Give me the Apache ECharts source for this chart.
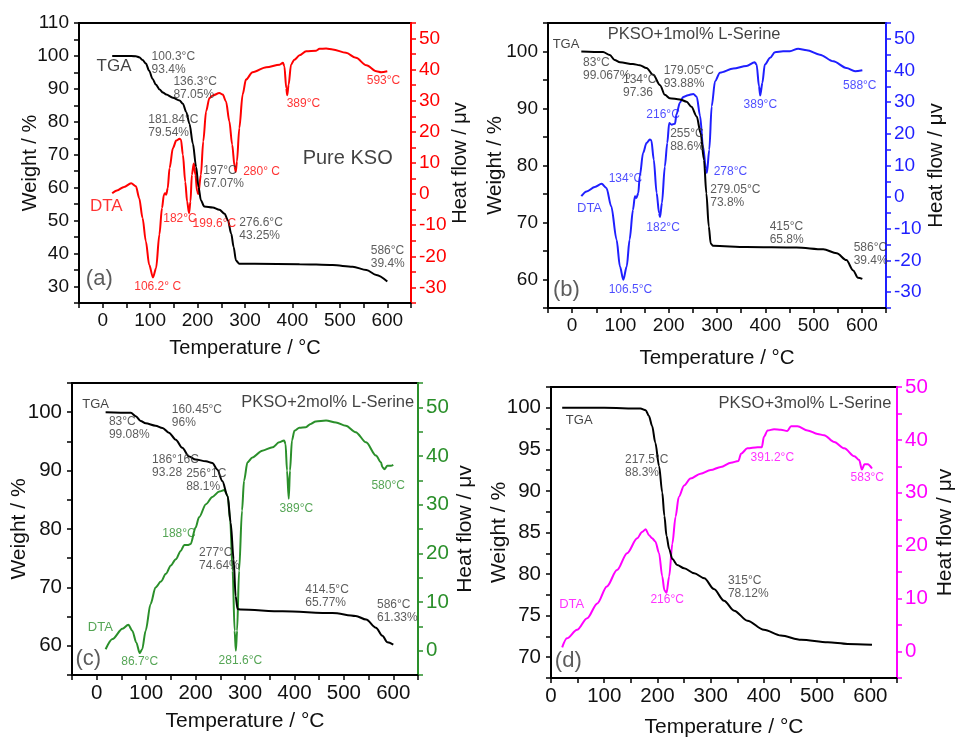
<!DOCTYPE html>
<html>
<head>
<meta charset="utf-8">
<title>TGA / DTA</title>
<script src="https://cdn.jsdelivr.net/npm/echarts@6/dist/echarts.min.js"></script>
<style>
  html, body { margin: 0; padding: 0; background: #fff; }
  #main { width: 960px; height: 739px; }
</style>
</head>
<body>
<div id="main"></div>
<script>
// (a) Pure KSO  -- [temperature, value]
const tgaA = [[20,100],[50,100],[70,99.9],[77,99.6],[84,98.8],[91,97.7],[98,95.5],[105,93.1],[112,91.3],[120,89.8],[127,88.9],[134,88.3],[148,87.3],[162,86.5],[169,85.5],[176,83],[183,79.4],[190,73.4],[197,66.3],[202,60.2],[207,56.2],[214,54.3],[232,54],[246,53.3],[257,52.1],[264,50.1],[271,46],[276,42],[281,37.9],[288,36.9],[320,36.9],[415,36.8],[485,36.5],[527,36],[556,35],[577,33.5],[600,31.5]];
const dtaA = [[20,0.3],[30,1.2],[45,2.3],[60,3.5],[70,2.5],[77,-1.3],[84,-7.7],[91,-15.2],[98,-22.7],[106,-26.8],[112.5,-23.8],[119.5,-13],[125,-4.5],[129,-0.2],[131.5,0.3],[134,-0.2],[137,1.9],[141,8.4],[148,14.8],[155,17.2],[162,17.8],[165,17.5],[169,12.7],[174,4],[178,-2.4],[182,-6.1],[185,-2.4],[188,6.2],[192,9.8],[195.5,6.2],[199,0.9],[201.5,0],[207,6.2],[212,17],[218,26.6],[225,30.9],[232,31.7],[246,32.5],[253,32],[260,29.8],[267,23.4],[273,15.9],[278,8.9],[280.5,7.1],[283,10.5],[288,21.2],[295,32],[302,36.8],[316,39.2],[345,40.8],[373,41.6],[380,42.2],[383,41.1],[387,34.1],[389,31.8],[392,35.2],[397,41.6],[404,43.2],[415,44.6],[429,45.9],[450,46.1],[457,46.7],[471,46.8],[485,46.5],[513,45.4],[534,43.8],[556,41.4],[577,39.5],[587,39.2],[600,39.5]];

// (b) PKSO + 1 mol% L-Serine
const tgaB = [[19,100],[64,99.9],[78,99.4],[88,98.5],[99,98.1],[126,97.8],[140,97.6],[154,97.1],[168,95.9],[182,94.1],[192,92.4],[202,91.8],[223,91.6],[237,91.2],[247,90.3],[258,88.6],[266,85.7],[273,81],[278,75.1],[283,69.3],[287,66.3],[292,65.9],[361,65.7],[465,65.6],[520,65.3],[548,64.6],[568,63.4],[582,61.6],[592,60.3],[601,60.1]];
const dtaB = [[19,0.3],[30,1.8],[47,3.2],[61,4.2],[71,2.9],[81,-2.9],[92,-13.4],[99,-21.9],[106,-26.1],[113,-21.9],[119,-13.4],[126,-4],[130,0.3],[133,-0.3],[137,1.3],[140,6.6],[147,14],[154,17.1],[161,18.2],[164,18],[169,11.9],[175,1.3],[180,-5],[182,-6.3],[186,-1.8],[192,9.7],[197,17.1],[201,23.4],[206,22.9],[213,23.2],[216,26.1],[223,29.8],[230,31.6],[240,32.2],[251,32.6],[258,31.7],[265,25.6],[271,16.1],[277,9.2],[279,7.6],[284,15],[289,28.7],[296,36.6],[306,39.3],[334,40.6],[361,41.4],[378,42.6],[382,41.9],[387,35],[389.5,32.1],[394,36.1],[399,41.9],[410,44],[420,45.8],[437,46.1],[451,46.1],[468,46.9],[486,46.4],[513,45],[541,42.9],[568,40.8],[586,39.8],[601,40.1]];

// (c) PKSO + 2 mol% L-Serine
const tgaC = [[18,100],[69,99.9],[79,99.3],[89,98.5],[99,98.1],[119,97.7],[133,97.3],[146,96.5],[160,95.3],[173,93.9],[187,92.4],[200,91.9],[221,91.6],[234,91.3],[244,90.2],[254,88.2],[265,85.6],[271,81.1],[277,74.8],[281,68.5],[285,66.3],[291,66.2],[376,65.9],[477,65.6],[524,65.1],[545,64.5],[565,63.1],[578,61.7],[588,60.6],[600,60.2]];
const dtaC = [[18,0.3],[32,2.4],[52,4.5],[64,5.3],[72,4.1],[80,1.7],[87,-0.5],[92,0.3],[99,4.1],[109,9.6],[119,13],[130,14.2],[140,15.8],[150,17.5],[160,18.8],[170,20.5],[177,21.7],[184,21.7],[190,21.9],[200,25.3],[207,27.4],[221,30.1],[234,31.6],[248,32.7],[258,33],[265,31.8],[270,26.7],[275,16.4],[279,4.1],[281.5,0],[284,4.1],[288,16.4],[294,28.8],[298,34.9],[305,38.7],[315,39.7],[335,41.1],[356,41.8],[369,42.8],[379,43.2],[382,42.5],[385,37],[388.5,31.2],[391,37],[395,43.2],[400,45.2],[410,45.8],[423,45.9],[433,46.6],[443,47.1],[464,47.3],[484,46.9],[504,46.2],[524,44.9],[545,42.8],[565,40.1],[575,38.7],[578,37.7],[582,37.3],[588,38],[595,38],[600,38.2]];

// (d) PKSO + 3 mol% L-Serine
const tgaD = [[21,100],[100,100],[168,99.9],[178,99.7],[184,99],[190,97.8],[196,95.8],[203,93],[209,89.8],[213,87],[217,84.6],[222,83],[228,81.8],[237,81.1],[250,80.7],[269,80.1],[288,79.5],[306,78.2],[325,76.8],[344,75.6],[369,74.4],[400,73.3],[432,72.6],[470,72.1],[520,71.8],[557,71.6],[603,71.5]];
const dtaD = [[21,0.8],[30,2.5],[49,4.1],[68,6.3],[87,9.1],[105,12.3],[124,15.4],[143,18.6],[162,21.4],[171,22.6],[178,23.1],[184,22],[190,21.4],[196,20.8],[203,18.6],[209,14.2],[213,11.6],[217,11.1],[222,14.2],[228,20.4],[234,25.5],[240,29.2],[250,31.4],[262,32.7],[281,33.6],[300,34.3],[319,34.9],[338,35.7],[352,36],[357,37.4],[369,38.4],[388,38.6],[396,38.6],[400,40.6],[407,41.8],[419,42],[432,41.9],[444,41.7],[451,42.6],[463,42.6],[482,41.8],[501,41.1],[513,40.9],[532,39.6],[551,38.4],[570,36.9],[579,36.2],[584,34.4],[589,35.4],[595,35.4],[603,34.6]];

// annotations: [temperature, weight, text]  (placed on the weight axis)
const notesA = [[102,97.9,'100.3°C\n93.4%'],[148,90.3,'136.3°C\n87.05%'],[95,78.6,'181.84°C\n79.54%'],[211,63.2,'197°C\n67.07%'],[287,47.5,'276.6°C\n43.25%'],[564,38.9,'586°C\n39.4%']];
const peaksA = [[65.4,30.1,'106.2° C'],[126.6,50.6,'182°C'],[188.5,49.2,'199.6°C'],[295,64.9,'280° C'],[386.8,85.5,'389°C'],[555.6,92.4,'593°C']];
const notesB = [[21.4,96.9,'83°C\n99.067%'],[104.3,94,'134°C\n97.36'],[188.5,95.5,'179.05°C\n93.88%'],[202,84.4,'255°C\n88.6%'],[285,74.6,'279.05°C\n73.8%'],[408,68.1,'415°C\n65.8%'],[582,64.4,'586°C\n39.4%']];
const peaksB = [[74.6,77.7,'134°C'],[74.6,58.2,'106.5°C'],[152.6,69.1,'182°C'],[152.6,89,'216°C'],[292,78.9,'278°C'],[354,90.6,'389°C'],[560,94,'588°C']];
const notesC = [[23.6,97.2,'83°C\n99.08%'],[151,99.3,'160.45°C\n96%'],[111,90.8,'186°16C\n93.28'],[180,88.3,'256°1C\n88.1%'],[206,74.8,'277°C\n74.64%'],[421,68.5,'414.5°C\n65.77%'],[566,66,'586°C\n61.33%']];
const peaksC = [[48.6,57.3,'86.7°C'],[131.6,79.2,'188°C'],[245.6,57.5,'281.6°C'],[369,83.4,'389°C'],[554.7,87.4,'580°C']];
const notesD = [[138,93,'217.5°C\n88.3%'],[331.4,78.4,'315°C\n78.12%']];
const peaksD = [[185.8,76.9,'216°C'],[374,94,'391.2°C'],[561.8,91.6,'583°C']];

// big labels: [t, w] for TGA, DTA, panel letter, title
const tagsA = {tga:[-14,96.7], dta:[-28,54.2], letter:[-36.6,32.3,'(a)'], title:[420.5,68.9,'Pure KSO']};
const tagsB = {tga:[-41.4,101.3], dta:[9,72.5], letter:[-40.7,58.2,'(b)'], title:[72.5,103,'PKSO+1mol% L-Serine']};
const tagsC = {tga:[-30.4,101.4], dta:[-19,63.1], letter:[-43.9,57.8,'(c)'], title:[291.5,101.7,'PKSO+2mol% L-Serine']};
const tagsD = {tga:[27,98.5], dta:[14.4,76.3], letter:[6.3,69.6,'(d)'], title:[313.9,100.5,'PKSO+3mol% L-Serine']};

const panels = [
  {tga:tgaA, dta:dtaA, notes:notesA, peaks:peaksA, tags:tagsA, color:'#ff0000',
   grid:{left:79, top:23, width:332, height:280}, xMin:-50,
   wAxis:[25,110,5,10], hAxis:[-35,55,5,10], gaps:[39,39,35], tick:19, name:20, tagSize:17, titleSize:20},
  {tga:tgaB, dta:dtaB, notes:notesB, peaks:peaksB, tags:tagsB, color:'#1f1fff',
   grid:{left:548, top:23, width:338, height:285}, xMin:-50,
   wAxis:[55,105,5,10], hAxis:[-35,55,5,10], gaps:[42,40,40], tick:19, name:20.5, tagSize:13, titleSize:16.5},
  {tga:tgaC, dta:dtaC, notes:notesC, peaks:peaksC, tags:tagsC, color:'#2a8f2a',
   grid:{left:72, top:383, width:346, height:292}, xMin:-50,
   wAxis:[55,105,5,10], hAxis:[-5,55,5,10], gaps:[42,37,36], tick:20.5, name:21, tagSize:13, titleSize:16.5},
  {tga:tgaD, dta:dtaD, notes:notesD, peaks:peaksD, tags:tagsD, color:'#ff00ff',
   grid:{left:551, top:387, width:346, height:292}, xMin:0,
   wAxis:[67.5,102.5,2.5,5], hAxis:[-5,50,5,10], gaps:[41,38,39], tick:20.5, name:21, tagSize:13, titleSize:16.5}
];

const font = '"Liberation Sans", Arial, sans-serif';

function textSeries(i, items, color, size, lh) {
  return {
    type: 'scatter', xAxisIndex: i, yAxisIndex: 2 * i, symbolSize: 1, silent: true, z: 6,
    itemStyle: {color: 'transparent'},
    data: items.map(d => ({value: [d[0], d[1]], label: {formatter: d[2]}})),
    label: {show: true, position: 'right', distance: 0, color: color, fontSize: size,
      lineHeight: lh || Math.round(size * 1.15), fontFamily: font}
  };
}

const grids = [], xAxes = [], yAxes = [], series = [];
panels.forEach((p, i) => {
  grids.push(Object.assign({show: true, borderColor: '#000', borderWidth: 2, containLabel: false}, p.grid));
  xAxes.push({
    gridIndex: i, type: 'value', min: p.xMin, max: 650, interval: 50,
    name: 'Temperature / °C', nameLocation: 'middle', nameGap: p.gaps[2], nameMoveOverlap: false,
    nameTextStyle: {fontSize: p.name, color: '#111', fontFamily: font},
    axisLine: {onZero: false, lineStyle: {color: '#000', width: 2}},
    axisTick: {length: 5, lineStyle: {color: '#000', width: 1.5}},
    axisLabel: {fontSize: p.tick, color: '#111', margin: 8, fontFamily: font,
      formatter: v => (v % 100 === 0 ? String(v) : '')},
    splitLine: {show: false}
  });
  const w = p.wAxis, h = p.hAxis;
  yAxes.push({
    gridIndex: i, type: 'value', position: 'left', min: w[0], max: w[1], interval: w[2],
    name: 'Weight / %', nameLocation: 'middle', nameRotate: 90, nameGap: p.gaps[0], nameMoveOverlap: false,
    nameTextStyle: {fontSize: p.name, color: '#111', fontFamily: font},
    axisLine: {show: true, onZero: false, lineStyle: {color: '#000', width: 2}},
    axisTick: {show: true, length: 5, lineStyle: {color: '#000', width: 1.5}},
    axisLabel: {fontSize: p.tick, color: '#111', margin: 10, fontFamily: font,
      formatter: v => (v % w[3] === 0 ? String(v) : '')},
    splitLine: {show: false}
  });
  yAxes.push({
    gridIndex: i, type: 'value', position: 'right', min: h[0], max: h[1], interval: h[2],
    name: 'Heat flow / μv', nameLocation: 'middle', nameRotate: 90, nameGap: p.gaps[1], nameMoveOverlap: false,
    nameTextStyle: {fontSize: p.name, color: '#111', fontFamily: font},
    axisLine: {show: true, onZero: false, lineStyle: {color: p.color, width: 2}},
    axisTick: {show: true, length: 5, lineStyle: {color: p.color, width: 1.5}},
    axisLabel: {fontSize: p.tick, color: p.color, margin: 8, fontFamily: font,
      formatter: v => (v % h[3] === 0 ? String(v) : '')},
    splitLine: {show: false}
  });
  series.push({
    type: 'line', name: 'TGA', xAxisIndex: i, yAxisIndex: 2 * i, data: p.tga,
    symbol: 'none', smooth: 0.3, smoothMonotone: 'x', z: 3,
    lineStyle: {color: '#000', width: 2}
  });
  series.push({
    type: 'line', name: 'DTA', xAxisIndex: i, yAxisIndex: 2 * i + 1, data: p.dta,
    symbol: 'none', smooth: 0.3, smoothMonotone: 'x', z: 2,
    lineStyle: {color: p.color, width: 2}
  });
  series.push(textSeries(i, p.notes, '#333', 12, 13));
  series.push(textSeries(i, p.peaks, p.color, 12));
  const t = p.tags;
  series.push(textSeries(i, [[t.tga[0], t.tga[1], 'TGA']], '#111', p.tagSize));
  series.push(textSeries(i, [[t.dta[0], t.dta[1], 'DTA']], p.color, p.tagSize));
  series.push(textSeries(i, [t.letter], '#333', 22));
  series.push(textSeries(i, [t.title], '#111', p.titleSize));
});

const chart = echarts.init(document.getElementById('main'), null, {renderer: 'canvas'});
chart.setOption({
  backgroundColor: '#fff',
  animation: false,
  textStyle: {fontFamily: font},
  grid: grids,
  xAxis: xAxes,
  yAxis: yAxes,
  series: series
});
</script>
</body>
</html>
